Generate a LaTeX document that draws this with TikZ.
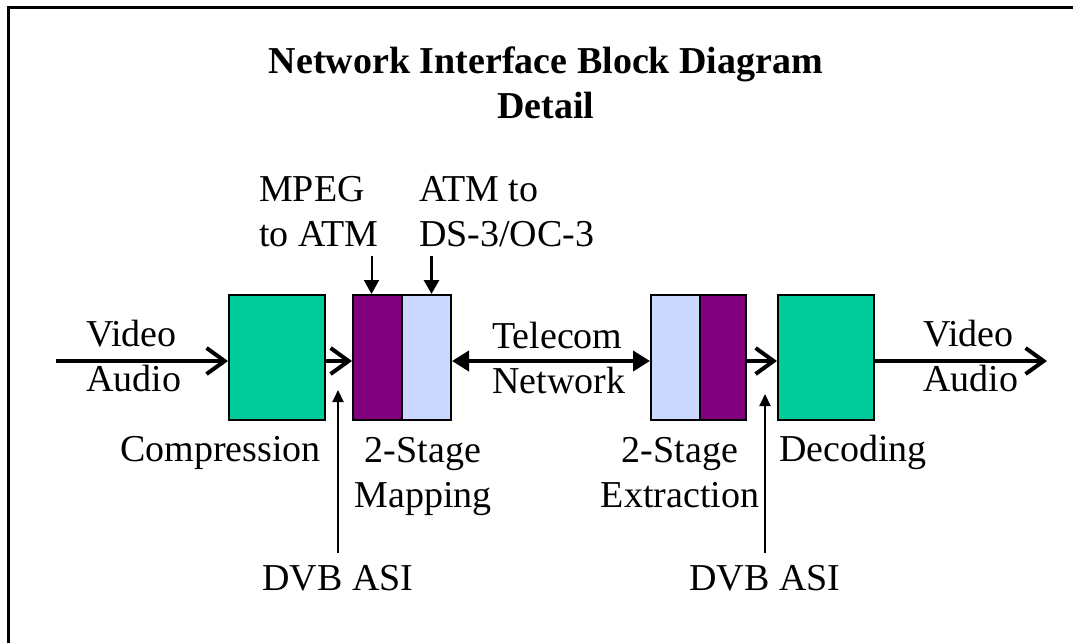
\documentclass[tikz,border=0pt]{standalone}
\usepackage{fontspec}
\setmainfont{Liberation Serif}
\usetikzlibrary{arrows.meta, positioning}
\definecolor{codecGreen}{HTML}{00CC99}
\definecolor{muxPurple}{HTML}{800080}
\definecolor{muxBlue}{HTML}{CCD9FF}

\tikzset{
  block/.style={draw=black, line width=2pt, minimum width=#1, minimum height=125pt, inner sep=0pt, anchor=north west},
  lbl/.style={inner sep=0pt, font=\fontsize{38}{45}\selectfont, align=#1},
  lbl/.default=left,
  flow/.style={line width=4pt, -{Straight Barb[length=18pt, width=26pt, line width=4pt]}},
  link/.style={line width=4pt, {Triangle[length=17pt, width=20pt]}-{Triangle[length=17pt, width=20pt]}},
  feed/.style={line width=#1, -{Triangle[length=14pt, width=15pt]}},
  asi/.style={line width=2pt, -{Triangle[length=12pt, width=11pt]}}
}

\begin{document}
\begin{tikzpicture}[x=1pt, y=-1pt]
  \useasboundingbox (0,0) rectangle (1073,643);
  % frame
  \draw[line width=3pt] (8,643) -- (8,7) -- (1073,7);

  % title (base = last line)
  \node[lbl=center, font=\fontsize{38}{45}\selectfont\bfseries, anchor=base] (title) at (546,118) {Network Interface Block Diagram\\Detail};

  % blocks
  \node[block=96pt, fill=codecGreen] (comp) at (228,294) {};
  \node[block=49pt, fill=muxPurple] (mapA) at (352,294) {};
  \node[block=49pt, fill=muxBlue] (mapB) at (401,294) {};
  \node[block=49pt, fill=muxBlue] (extA) at (650,294) {};
  \node[block=46pt, fill=muxPurple] (extB) at (699,294) {};
  \node[block=96pt, fill=codecGreen] (dec) at (777,294) {};

  % labels
  \node[lbl, anchor=base west] (mpeg) at (259,246) {MPEG\\to ATM};
  \node[lbl, anchor=base west] (atm) at (419,246) {ATM to\\DS-3/OC-3};
  \node[lbl, anchor=base west] (avin) at (86,391) {Video\\Audio};
  \node[lbl, anchor=base west] (telco) at (492,393) {Telecom\\Network};
  \node[lbl, anchor=base west] (avout) at (923,391) {Video\\Audio};
  \node[lbl, anchor=base west] (compL) at (120,461) {Compression};
  \node[lbl=center, anchor=base] (mapL) at (423,507) {2-Stage\\Mapping};
  \node[lbl=center, anchor=base] (extL) at (680,507) {2-Stage\\Extraction};
  \node[lbl, anchor=base west] (decL) at (779,461) {Decoding};
  \node[lbl, anchor=base] (asiL) at (338,590) {DVB ASI};
  \node[lbl, anchor=base] (asiR) at (765,590) {DVB ASI};

  % signal path
  \coordinate (vin) at (56,361);
  \coordinate (vout) at (1047,361);
  \draw[flow] (vin) -- (vin -| comp.west);
  \draw[flow] (vin -| comp.east) -- (vin -| mapA.west);
  \draw[link] (vin -| mapB.east) -- (vin -| extA.west);
  \draw[flow] (vin -| extB.east) -- (vin -| dec.west);
  \draw[flow] (vin -| dec.east) -- (vout);

  % control inputs
  \draw[feed=2pt, shorten <=9pt] ([xshift=-6pt]mapA.north |- mpeg.south) -- ([xshift=-6pt]mapA.north);
  \draw[feed=3pt, shorten <=9pt] ([xshift=5pt]mapB.north |- mpeg.south) -- ([xshift=5pt]mapB.north);
  \coordinate (asiInL) at (338,390);
  \coordinate (asiInR) at (765,394);
  \draw[asi, shorten <=12pt] (asiL.north) -- (asiInL);
  \draw[asi, shorten <=12pt] (asiR.north) -- (asiInR);
\end{tikzpicture}
\end{document}
